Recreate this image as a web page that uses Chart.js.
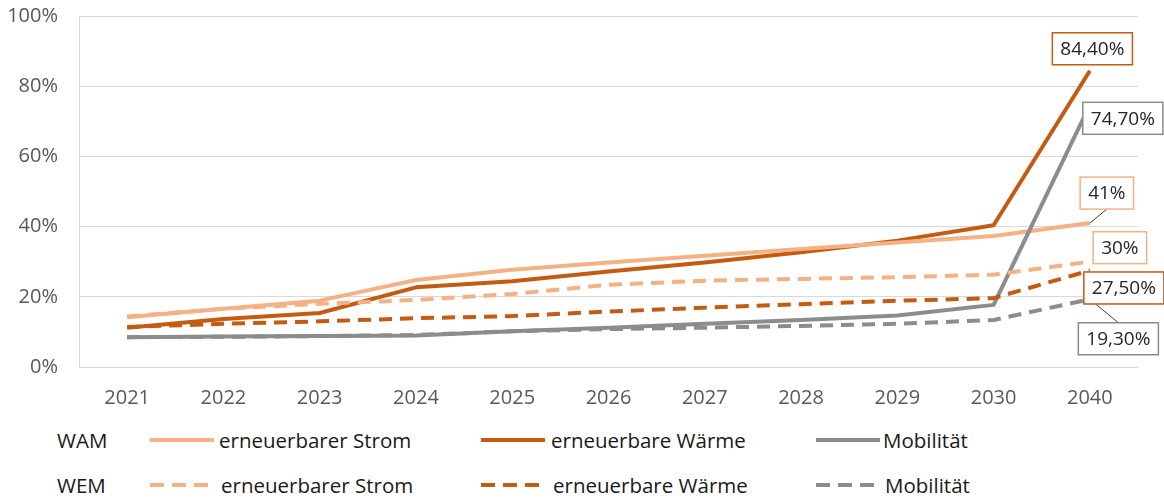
<!DOCTYPE html>
<html><head><meta charset="utf-8">
<script src="https://cdn.jsdelivr.net/npm/chart.js@4"></script>
<style>
body{margin:0;background:#fff;font-family:"Open Sans",sans-serif;}
#wrap{position:relative;width:1164px;height:500px;overflow:hidden;}
#cbox{position:absolute;left:0;top:-17px;width:1164px;height:427px;}
.lg{position:absolute;font-size:20.5px;color:#1a1a1a;line-height:24px;white-space:nowrap;}
.ln{position:absolute;height:4px;}
</style></head><body>
<div id="wrap">
<div id="cbox"><canvas id="c"></canvas></div>
<div id="legend"></div>
</div>
<script>
const years = ['2021','2022','2023','2024','2025','2026','2027','2028','2029','2030','2040'];
const wamStrom  = [14.2, 16.6, 18.9, 24.8, 27.7, 29.8, 31.7, 33.6, 35.5, 37.3, 41.0];
const wamWaerme = [11.2, 13.7, 15.4, 22.7, 24.4, 27.2, 29.8, 32.7, 36.0, 40.4, 84.4];
const wamMob    = [8.5, 8.7, 8.8, 9.0, 10.2, 11.2, 12.3, 13.4, 14.7, 17.7, 74.7];
const wemStrom  = [14.4, 16.6, 18.0, 19.1, 20.8, 23.4, 24.6, 25.1, 25.6, 26.3, 30.0];
const wemWaerme = [11.4, 12.3, 13.0, 13.9, 14.5, 15.8, 16.9, 17.9, 18.9, 19.6, 27.5];
const wemMob    = [8.5, 8.6, 8.8, 9.1, 10.2, 10.8, 11.2, 11.7, 12.3, 13.4, 19.3];
const seriesNames = ['erneuerbarer Strom','erneuerbare Wärme','Mobilität'];
const scenarioNames = ['WAM','WEM'];
const endLabels = {wamWaerme:'84,40%', wamMob:'74,70%', wamStrom:'41%', wemStrom:'30%', wemWaerme:'27,50%', wemMob:'19,30%'};
const yTicks = [0,20,40,60,80,100];

const LIGHT='#F4B183', DARK='#C55A11', GREY='#8C8C8C';
const DASH=[13,8];

// callout placement (style): box-centre offset from the last point
const callouts = {
  wamWaerme:{dx:2.5, dy:-22, color:DARK, leader:false},
  wamMob:{dx:33, dy:13.5, color:GREY, leader:false},
  wamStrom:{dx:17, dy:-30, color:LIGHT, leader:true},
  wemStrom:{dx:30, dy:-14, color:LIGHT, leader:false},
  wemWaerme:{dx:34, dy:17.5, color:DARK, leader:false},
  wemMob:{dx:28.5, dy:39.5, color:GREY, leader:true}
};

function ds(key,label,data,color,dashed){
  return {key,label,data,borderColor:color,backgroundColor:color,borderWidth:4,
    borderDash:dashed?DASH:[],pointRadius:0,tension:0,borderCapStyle:'butt',borderJoinStyle:'round',fill:false};
}

Chart.defaults.font.family='"Open Sans"';
Chart.defaults.font.size=20;
Chart.defaults.color='#595959';

const calloutPlugin={
  id:'callouts',
  afterDatasetsDraw(chart){
    const ctx=chart.ctx;
    ctx.save();
    ctx.font='19px "Open Sans"';
    chart.data.datasets.forEach((d,i)=>{
      const c=callouts[d.key]; if(!c) return;
      const meta=chart.getDatasetMeta(i);
      const p=meta.data[meta.data.length-1];
      const text=endLabels[d.key];
      const w=ctx.measureText(text).width+16, h=32;
      const cx=p.x+c.dx, cy=p.y+c.dy;
      const bx=cx-w/2, by=cy-h/2;
      if(c.leader){
        ctx.strokeStyle='#404040';ctx.lineWidth=1;
        ctx.beginPath();ctx.moveTo(p.x,p.y);
        const ty = c.dy<0 ? by+h : by;
        ctx.lineTo(cx, ty);ctx.stroke();
      }
      ctx.fillStyle='#fff';ctx.fillRect(bx,by,w,h);
      ctx.strokeStyle=c.color;ctx.lineWidth=1.5;ctx.strokeRect(bx,by,w,h);
      ctx.fillStyle='#262626';ctx.textAlign='center';ctx.textBaseline='middle';
      ctx.fillText(text,cx,cy+1);
    });
    ctx.restore();
  }
};

new Chart(document.getElementById('c'),{
  type:'line',
  data:{labels:years,datasets:[
    ds('wemMob','WEM '+seriesNames[2],wemMob,GREY,true),
    ds('wemWaerme','WEM '+seriesNames[1],wemWaerme,DARK,true),
    ds('wemStrom','WEM '+seriesNames[0],wemStrom,LIGHT,true),
    ds('wamMob','WAM '+seriesNames[2],wamMob,GREY,false),
    ds('wamStrom','WAM '+seriesNames[0],wamStrom,LIGHT,false),
    ds('wamWaerme','WAM '+seriesNames[1],wamWaerme,DARK,false)
  ]},
  options:{
    responsive:true,maintainAspectRatio:false,animation:false,
    layout:{padding:{top:0,right:26,left:0,bottom:0}},
    plugins:{legend:{display:false},tooltip:{enabled:false}},
    scales:{
      x:{offset:true,grid:{display:false},border:{display:true,color:'#D9D9D9'},
        ticks:{padding:11,color:'#595959'},
        afterFit(s){s.height=43;}},
      y:{min:0,max:100,
        afterBuildTicks(s){s.ticks=yTicks.map(v=>({value:v}));},
        ticks:{padding:21,color:'#595959',callback:v=>v+'%'},
        grid:{color:'#D9D9D9',drawTicks:false,lineWidth:1},
        border:{display:true,color:'#D9D9D9'},
        afterFit(s){s.width=79;}}
    }
  },
  plugins:[calloutPlugin]
});

// HTML legend
const lg=document.getElementById('legend');
const cols=[{x:150,tx:219,color:LIGHT,name:seriesNames[0]},{x:481,tx:551,color:DARK,name:seriesNames[1]},{x:816,tx:883,color:GREY,name:seriesNames[2]}];
const rows=[{y:440,name:scenarioNames[0],dashed:false},{y:485,name:scenarioNames[1],dashed:true}];
rows.forEach(r=>{
  const s=document.createElement('div');s.className='lg';s.style.left='57px';s.style.top=(r.y-12)+'px';s.textContent=r.name;lg.appendChild(s);
  cols.forEach(c=>{
    const l=document.createElement('div');l.className='ln';
    l.style.left=c.x+'px';l.style.top=(r.y-2)+'px';
    if(r.dashed){l.style.width='58px';l.style.background=`repeating-linear-gradient(90deg, ${c.color} 0 14px, transparent 14px 22px)`;}
    else {l.style.width='64px';l.style.background=c.color;}
    lg.appendChild(l);
    const t=document.createElement('div');t.className='lg';t.style.left=(r.dashed?c.tx+2:c.tx)+'px';t.style.top=(r.y-12)+'px';t.textContent=c.name;lg.appendChild(t);
  });
});
</script>
</body></html>
